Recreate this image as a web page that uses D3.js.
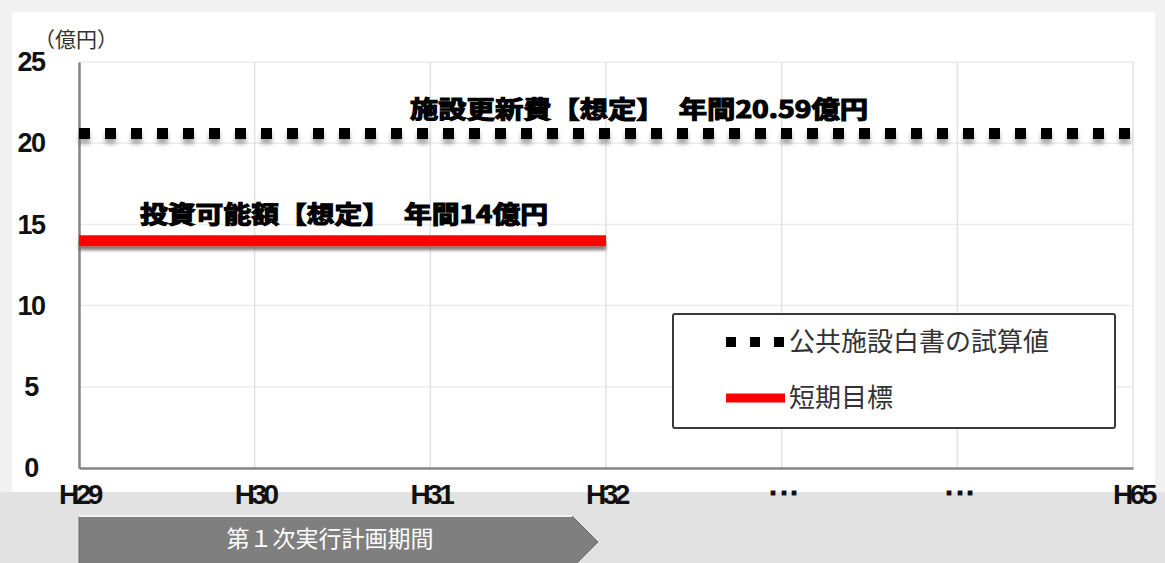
<!DOCTYPE html>
<html>
<head>
<meta charset="utf-8">
<script src="https://cdn.jsdelivr.net/npm/d3@7"></script>
<style>
  body { margin: 0; background: #f1f1f1; }
  svg { display: block; }
</style>
</head>
<body>
<div></div>
<script>
const width = 1165;
const height = 563;

// data
const categories = ['H29', 'H30', 'H31', 'H32', '･･･ ', ' ･･･', 'H65'];
const yTicks = [0, 5, 10, 15, 20, 25];
const whitePaperValues = [20.59, 20.59, 20.59, 20.59, 20.59, 20.59, 20.59]; // 公共施設白書の試算値
const shortTermValues = [14, 14, 14, 14]; // 短期目標 H29-H32
const seriesNames = ['公共施設白書の試算値', '短期目標'];
const annotations = ['施設更新費【想定】　年間20.59億円', '投資可能額【想定】　年間14億円'];
const unitLabel = '（億円）';
const periodLabel = '第１次実行計画期間';

const svg = d3.select('div').append('svg').attr('width', width).attr('height', height);

// shadows (userSpaceOnUse, the lines are flat so the bbox has no height)
const defs = svg.append('defs');
const shadow = defs.append('filter').attr('id', 'shadow').attr('filterUnits', 'userSpaceOnUse')
  .attr('x', 0).attr('y', 0).attr('width', width).attr('height', height);
shadow.append('feDropShadow').attr('dx', 0).attr('dy', 5).attr('stdDeviation', 2).attr('flood-color', '#666').attr('flood-opacity', 0.55);
const shadow2 = defs.append('filter').attr('id', 'shadow2').attr('filterUnits', 'userSpaceOnUse')
  .attr('x', 0).attr('y', 0).attr('width', width).attr('height', height);
shadow2.append('feDropShadow').attr('dx', 0).attr('dy', 4).attr('stdDeviation', 1.5).attr('flood-color', '#555').attr('flood-opacity', 0.75);

// backgrounds
svg.append('rect').attr('width', width).attr('height', height).attr('fill', '#f1f1f1');
svg.append('rect').attr('y', 492).attr('width', width).attr('height', height - 492).attr('fill', '#e2e2e2');
svg.append('rect').attr('x', 12).attr('y', 12).attr('width', 1143).attr('height', 480).attr('fill', '#ffffff');

const x = d3.scalePoint().domain(categories).range([79, 1133]);
const y = d3.scaleLinear().domain([0, 25]).range([468, 62]);

const numFont = '"Liberation Sans", Arial, sans-serif';
const jpFont = '"Noto Sans CJK JP", sans-serif';

// grid
const g = svg.append('g');
g.append('g').selectAll('line').data(yTicks.slice(1)).enter().append('line')
  .attr('x1', 79).attr('x2', 1133)
  .attr('y1', d => y(d)).attr('y2', d => y(d))
  .attr('stroke', '#ececec').attr('stroke-width', 1.5);
g.append('g').selectAll('line').data(categories.slice(1)).enter().append('line')
  .attr('x1', d => x(d)).attr('x2', d => x(d))
  .attr('y1', 62).attr('y2', 468)
  .attr('stroke', '#e2e2e2').attr('stroke-width', 1.5);

// axes
const yAxis = g.append('g').attr('transform', 'translate(79,0)')
  .call(d3.axisLeft(y).tickValues(yTicks).tickSize(0).tickPadding(0));
yAxis.select('.domain').attr('stroke', '#858585').attr('stroke-width', 2.5);
yAxis.selectAll('text')
  .attr('x', -48).attr('text-anchor', 'middle')
  .attr('font-family', numFont).attr('font-weight', 'bold').attr('font-size', 27)
  .attr('letter-spacing', -1.5).attr('fill', '#111');

const xAxis = g.append('g').attr('transform', 'translate(0,468)')
  .call(d3.axisBottom(x).tickSize(0).tickPadding(0));
xAxis.select('.domain').attr('stroke', '#858585').attr('stroke-width', 2.5);
xAxis.selectAll('text')
  .attr('y', 36).attr('dy', 0)
  .attr('font-family', numFont).attr('font-weight', 'bold').attr('font-size', 28)
  .attr('letter-spacing', -3.5).attr('fill', '#111');

svg.append('text').attr('x', 34).attr('y', 47)
  .attr('font-family', jpFont).attr('font-size', 21).attr('fill', '#333')
  .text(unitLabel);

// series
const line = d3.line().x((d, i) => x(categories[i])).y(d => y(d));

g.append('path').datum(whitePaperValues)
  .attr('d', line)
  .attr('fill', 'none').attr('stroke', '#000').attr('stroke-width', 11)
  .attr('stroke-dasharray', '11 15')
  .attr('filter', 'url(#shadow)');

g.append('path').datum(shortTermValues)
  .attr('d', line)
  .attr('fill', 'none').attr('stroke', '#ff0000').attr('stroke-width', 11)
  .attr('filter', 'url(#shadow2)');

// annotations
const annPos = [
  { x: 410, y: 118, w: 458 },
  { x: 140, y: 223, w: 408 }
];
annotations.forEach((t, i) => {
  svg.append('text')
    .attr('x', annPos[i].x).attr('y', annPos[i].y)
    .attr('textLength', annPos[i].w).attr('lengthAdjust', 'spacingAndGlyphs')
    .attr('font-family', jpFont).attr('font-weight', 'bold').attr('font-size', 24)
    .attr('fill', '#000').attr('stroke', '#000').attr('stroke-width', 1.2)
    .text(t);
});

// legend
const legend = svg.append('g').attr('transform', 'translate(673,314)');
legend.append('rect').attr('width', 442).attr('height', 114).attr('rx', 2)
  .attr('fill', '#fff').attr('stroke', '#3a3a3a').attr('stroke-width', 2);
legend.append('line').attr('x1', 53).attr('x2', 112).attr('y1', 28).attr('y2', 28)
  .attr('stroke', '#000').attr('stroke-width', 10).attr('stroke-dasharray', '10 14');
legend.append('line').attr('x1', 53).attr('x2', 112).attr('y1', 84).attr('y2', 84)
  .attr('stroke', '#ff0000').attr('stroke-width', 9);
legend.selectAll('text.lg').data(seriesNames).enter().append('text')
  .attr('class', 'lg')
  .attr('x', 116).attr('y', (d, i) => 37 + i * 56)
  .attr('font-family', jpFont).attr('font-size', 26).attr('fill', '#333')
  .text(d => d);

// period arrow
const arrow = svg.append('g');
arrow.append('path')
  .attr('d', 'M79,516 L572,516 L598,542 L572,568 L79,568 Z')
  .attr('fill', '#7f7f7f').attr('stroke', '#6a6a6a').attr('stroke-width', 1);
arrow.append('line').attr('x1', 79).attr('x2', 572).attr('y1', 516).attr('y2', 516)
  .attr('stroke', '#f4f4f4').attr('stroke-width', 2);
arrow.append('text').attr('x', 330).attr('y', 547).attr('text-anchor', 'middle')
  .attr('font-family', jpFont).attr('font-size', 23).attr('fill', '#fff')
  .text(periodLabel);
</script>
</body>
</html>
